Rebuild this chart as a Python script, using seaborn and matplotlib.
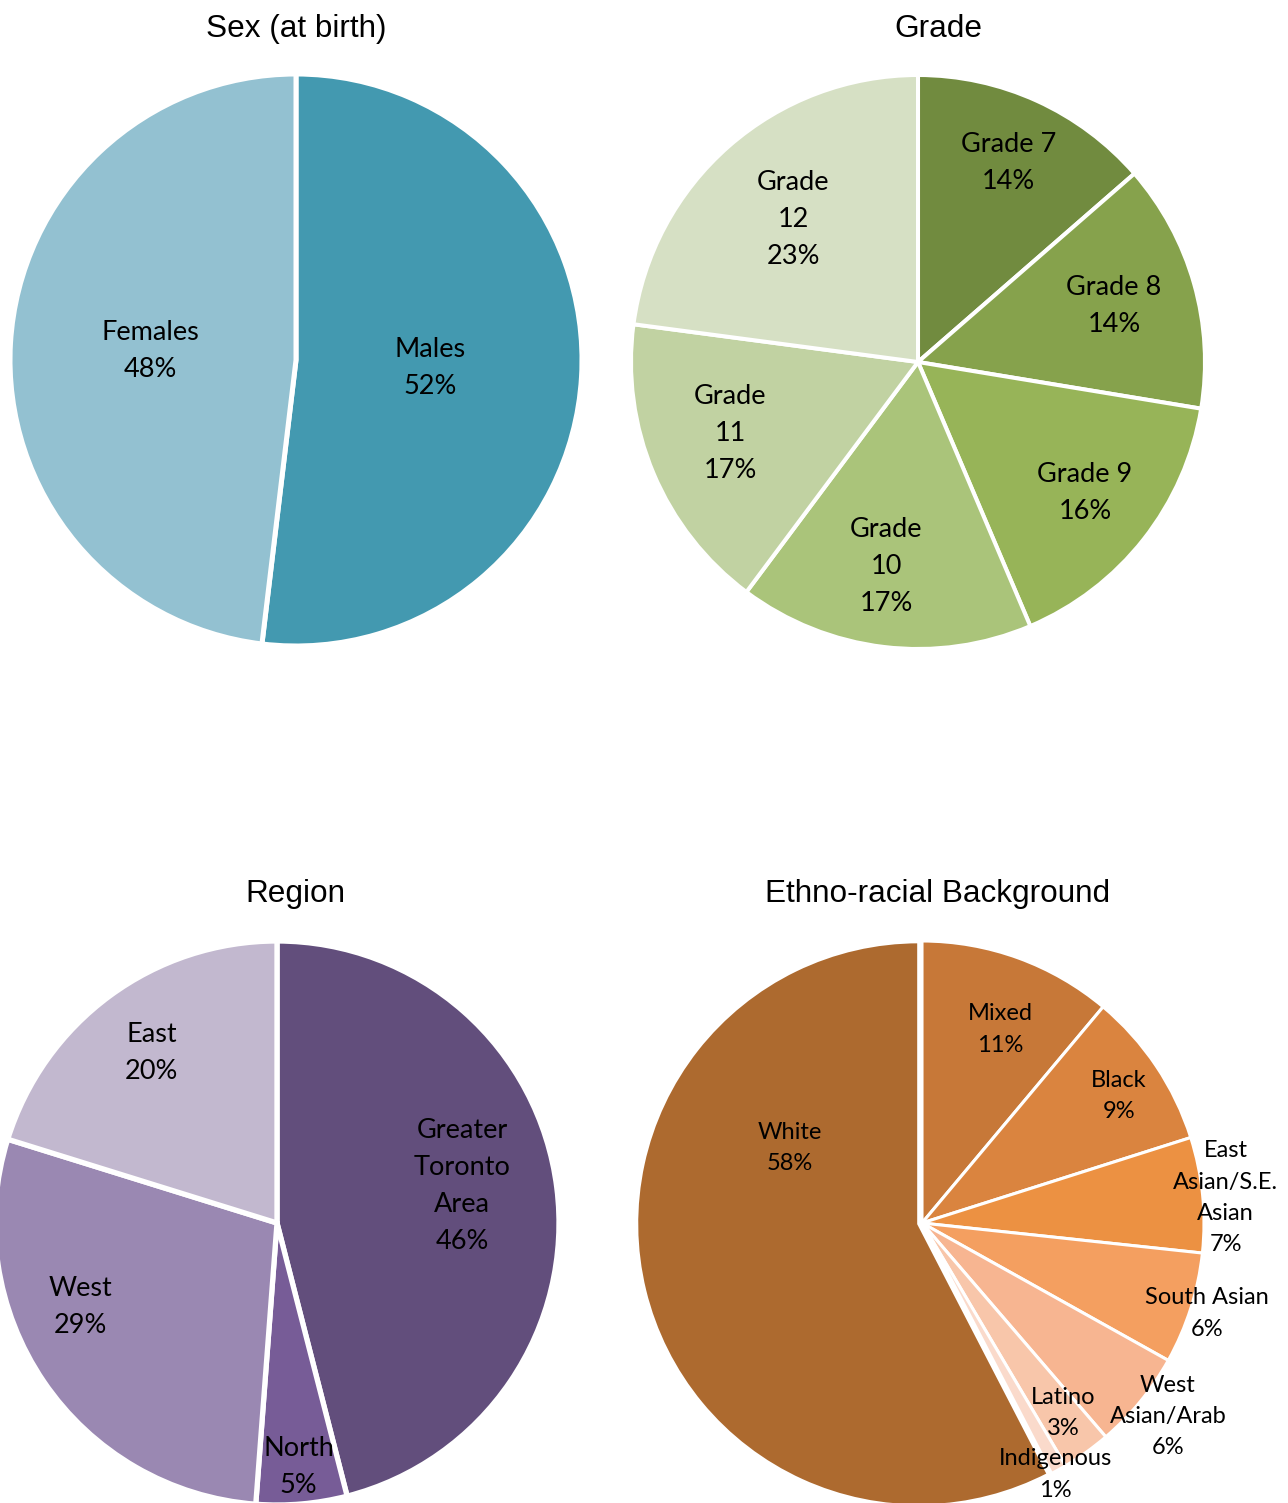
import numpy as np
import matplotlib
matplotlib.use("Agg")
import matplotlib.pyplot as plt
import seaborn as sns

# ---- data (percent of respondents) ----
SEX_LABELS = ["Males", "Females"]
SEX_VALUES = [51.9, 48.1]
SEX_COLORS = ["#4399B0", "#93C1D1"]

GRADE_LABELS = ["Grade 7", "Grade 8", "Grade 9", "Grade\n10", "Grade\n11", "Grade\n12"]
GRADE_VALUES = [13.6, 14.0, 16.0, 16.6, 16.9, 22.9]
GRADE_COLORS = ["#718B3F", "#86A24C", "#97B458", "#AAC47A", "#C1D2A2", "#D6E0C4"]

REGION_LABELS = ["Greater\nToronto\nArea", "North", "West", "East"]
REGION_VALUES = [46.0, 5.2, 28.6, 20.2]
REGION_COLORS = ["#624E7C", "#775C97", "#9A88B2", "#C2B8CF"]

ETHNO_LABELS = ["Mixed", "Black", "East\nAsian/S.E.\nAsian", "South Asian",
                "West\nAsian/Arab", "Latino", "Indigenous", "White"]
ETHNO_VALUES = [11.1, 9.0, 6.6, 6.4, 5.6, 2.8, 0.9, 57.6]
ETHNO_COLORS = ["#C77838", "#DA843F", "#EC9142", "#F49F60",
                "#F7B591", "#F8C6AA", "#FADACB", "#AD6A2F"]

W, H = 1288, 1503
TITLE_FONT = "Liberation Sans"
LABEL_FONT = "Lato"


def draw_pie(fig, cx, cy, r, title, title_x, title_y, labels, values, colors,
             dist, nudge, edge_lw, fsize, lspace, explode=None):
    """draw one pie; cx, cy, r in pixels (y from top)"""
    ax = fig.add_axes([(cx - r) / W, (H - cy - r) / H, 2 * r / W, 2 * r / H])
    wedges, _ = ax.pie(values, colors=sns.color_palette(colors),
                       startangle=90, counterclock=False, radius=1,
                       explode=explode,
                       wedgeprops=dict(edgecolor="white", linewidth=edge_lw))
    ax.set_xlim(-1, 1)
    ax.set_ylim(-1, 1)
    ax.set_axis_off()

    # data labels: category + rounded percent, placed along each wedge
    for w, lab, val, d, n in zip(wedges, labels, values, dist, nudge):
        ang = np.deg2rad((w.theta1 + w.theta2) / 2 + n)
        x = w.center[0] + d * np.cos(ang)
        y = w.center[1] + d * np.sin(ang)
        ax.text(x, y, f"{lab}\n{val:.0f}%", ha="center", va="center",
                fontsize=fsize, family=LABEL_FONT, color="black",
                linespacing=lspace, multialignment="center", clip_on=False)

    fig.text(title_x / W, 1 - title_y / H, title, ha="center", va="baseline",
             fontsize=22.7, family=TITLE_FONT, color="black")


def main():
    sns.set_theme(style="white")
    fig = plt.figure(figsize=(W / 100, H / 100), dpi=100)

    draw_pie(fig, 296, 360, 286, "Sex (at birth)", 296, 37,
             SEX_LABELS, SEX_VALUES, SEX_COLORS,
             [0.47, 0.51], [0, 0], 3.6, 19.5, 1.6)

    draw_pie(fig, 918, 362, 287, "Grade", 938, 37,
             GRADE_LABELS, GRADE_VALUES, GRADE_COLORS,
             [0.76, 0.71, 0.74, 0.72, 0.70, 0.66], [0, 0, 0, -2, -2, 0],
             2.9, 19.5, 1.6)

    draw_pie(fig, 277, 1223, 282, "Region", 295, 902,
             REGION_LABELS, REGION_VALUES, REGION_COLORS,
             [0.67, 0.87, 0.76, 0.75], [4, 0, -11, 0], 3.8, 19.5, 1.6)

    draw_pie(fig, 922, 1223, 282, "Ethno-racial Background", 938, 902,
             ETHNO_LABELS, ETHNO_VALUES, ETHNO_COLORS,
             [0.74, 0.83, 1.08, 1.06, 1.11, 0.84, 1.01, 0.53],
             [-2, -1, -1, 0, 1, 1, -1, -44], 2.2, 17, 1.6,
             explode=[0, 0, 0, 0, 0, 0, 0, 0.012])

    fig.savefig("out.png", dpi=100, facecolor="white")


if __name__ == "__main__":
    main()
